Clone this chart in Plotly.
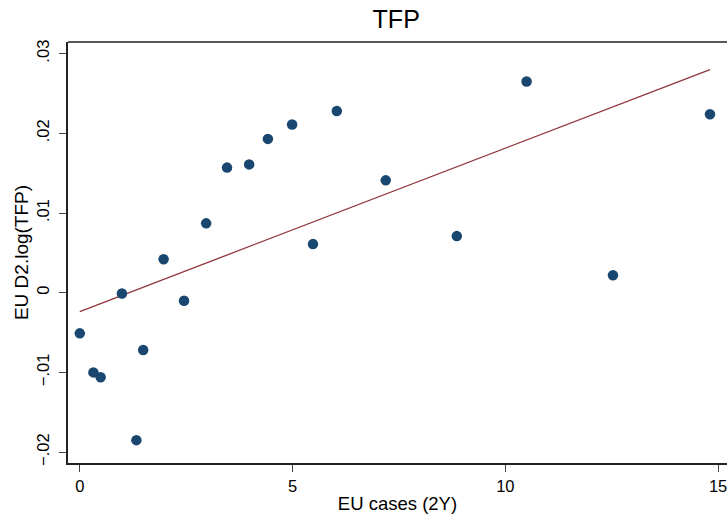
import plotly.graph_objects as go

eu_cases = [0.0, 0.32, 0.49, 0.99, 1.33, 1.49, 1.97, 2.45, 2.97, 3.46, 3.98, 4.42, 4.99, 5.48, 6.04, 7.19, 8.86, 10.50, 12.53, 14.81]
tfp = [-0.0051, -0.0100, -0.0106, -0.0001, -0.0185, -0.0072, 0.0042, -0.0010, 0.0087, 0.0157, 0.0161, 0.0193, 0.0211, 0.0061, 0.0228, 0.0141, 0.0071, 0.0265, 0.0022, 0.0224]

# fitted line
fit_intercept = -0.00237
fit_slope = 0.002051

y_tickvals = [-0.02, -0.01, 0, 0.01, 0.02, 0.03]
y_ticktext = ["\u2212.02", "\u2212.01", "0", ".01", ".02", ".03"]
x_tickvals = [0, 5, 10, 15]
x_ticktext = ["0", "5", "10", "15"]

fit_x = [min(eu_cases), max(eu_cases)]
fit_y = [fit_intercept + fit_slope * v for v in fit_x]

FONT = "Liberation Sans, Arial, sans-serif"

fig = go.Figure()
fig.add_trace(go.Scatter(
    x=fit_x, y=fit_y, mode="lines",
    line=dict(color="#90353b", width=1.3),
    showlegend=False, hoverinfo="skip"))
fig.add_trace(go.Scatter(
    x=eu_cases, y=tfp, mode="markers",
    marker=dict(color="#1a476f", size=10.5, line=dict(width=0)),
    showlegend=False, hoverinfo="skip"))

fig.update_layout(
    width=727, height=514,
    margin=dict(l=68, r=0, t=42, b=51),
    paper_bgcolor="white", plot_bgcolor="white",
    font=dict(family=FONT, color="#000000", size=16),
    title=dict(text="TFP", font=dict(family=FONT, size=25, color="#000"),
               xref="container", x=0.545, xanchor="center",
               yref="container", y=1 - 19 / 514, yanchor="middle"),
    xaxis=dict(
        range=[-0.277, 15.21], tickmode="array", tickvals=x_tickvals, ticktext=x_ticktext,
        ticks="outside", ticklen=7, tickwidth=1.2, tickcolor="#444",
        ticklabeloverflow="allow",
        showline=True, linecolor="#222", linewidth=1.6, mirror=False,
        showgrid=False, zeroline=False,
        tickfont=dict(size=16.5),
        title=dict(text="EU cases (2Y)", font=dict(size=18.5), standoff=4)),
    yaxis=dict(
        range=[-0.02137, 0.03146], tickmode="array", tickvals=y_tickvals, ticktext=y_ticktext,
        ticks="outside", ticklen=7, tickwidth=1.2, tickcolor="#444",
        tickangle=-90, ticklabelstandoff=4,
        showline=True, linecolor="#222", linewidth=1.6,
        showgrid=False, zeroline=False,
        tickfont=dict(size=16.5),
        title=dict(text="EU D2.log(TFP)", font=dict(size=19), standoff=0)),
    shapes=[dict(type="line", xref="paper", yref="paper", x0=0, x1=1, y0=1, y1=1,
                 line=dict(color="#222", width=1.6))],
)

fig.write_html("out.html")
